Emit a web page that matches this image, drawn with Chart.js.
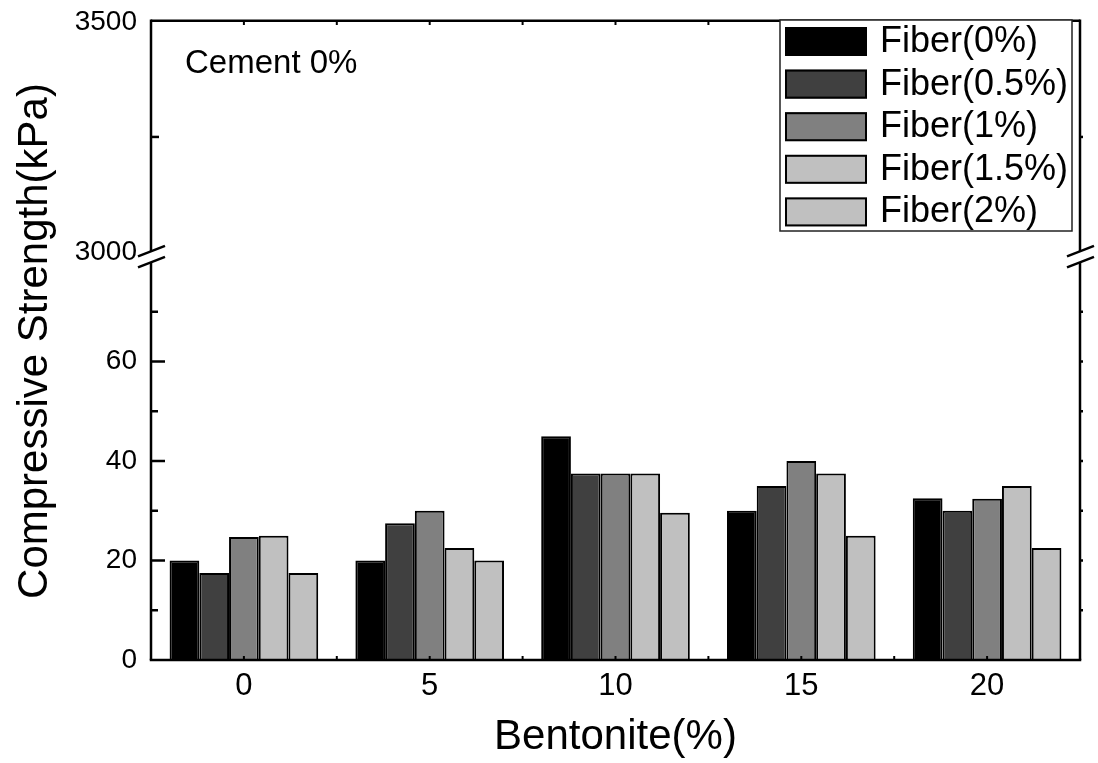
<!DOCTYPE html>
<html>
<head>
<meta charset="utf-8">
<title>Compressive Strength vs Bentonite</title>
<script src="https://cdn.jsdelivr.net/npm/chart.js@4.4.1/dist/chart.umd.min.js"></script>
<style>
  html, body { margin: 0; padding: 0; background: #fff; }
  #wrap { width: 1098px; height: 763px; }
</style>
</head>
<body>
<div id="wrap"><canvas id="chart" width="1098" height="763"></canvas></div>
<script>
// Bentonite content (%) on the x axis
const bentonite = ['0', '5', '10', '15', '20'];

// Fibre contents shown in the legend
const fiberLabels = ['Fiber(0%)', 'Fiber(0.5%)', 'Fiber(1%)', 'Fiber(1.5%)', 'Fiber(2%)'];

// Compressive strength (kPa) for each fibre content, cement 0%
const fiber0  = [20.0, 20.0, 45.0, 30.0, 32.5];
const fiber05 = [17.5, 27.5, 37.5, 35.0, 30.0];
const fiber1  = [24.7, 30.0, 37.5, 40.0, 32.4];
const fiber15 = [25.0, 22.5, 37.5, 37.5, 35.0];
const fiber2  = [17.5, 20.0, 29.6, 25.0, 22.5];

// Labelled ticks of the two y-axis segments
const lowerTicks = [0, 20, 40, 60];
const upperTicks = [3000, 3500];

const FONT = '"Liberation Sans", Arial, Helvetica, sans-serif';
const fills = ['#000000', '#404040', '#808080', '#c0c0c0', '#c0c0c0'];
const seriesValues = [fiber0, fiber05, fiber1, fiber15, fiber2];

const datasets = seriesValues.map((vals, i) => ({
  label: fiberLabels[i],
  data: vals,
  backgroundColor: fills[i],
  borderColor: '#000',
  borderWidth: 2,
  borderSkipped: 'bottom',
  yAxisID: 'y',
  categoryPercentage: 0.8,
  barPercentage: 1.0
}));

function line(ctx, x1, y1, x2, y2) {
  ctx.beginPath();
  ctx.moveTo(x1, y1);
  ctx.lineTo(x2, y2);
  ctx.stroke();
}

// Frame, broken y axis, ticks, labels, titles and the boxed legend
const framePlugin = {
  id: 'frame',
  afterDraw(chart) {
    const { ctx, chartArea: a } = chart;
    const x = chart.scales.x, y = chart.scales.y, yTop = chart.scales.yTop;
    ctx.save();
    ctx.strokeStyle = '#000';
    ctx.fillStyle = '#000';
    ctx.lineWidth = 2.5;
    ctx.lineCap = 'butt';

    // where the axis is broken
    const brk = (y.top + yTop.getPixelForValue(upperTicks[0])) / 2;
    const gap = 5.5;

    // frame
    line(ctx, a.left, a.top - 1.25, a.right, a.top - 1.25);
    line(ctx, a.left - 1.25, a.bottom, a.right + 1.25, a.bottom);
    [a.left, a.right].forEach(px => {
      line(ctx, px, a.top - 2.5, px, brk - gap);
      line(ctx, px, brk + gap, px, a.bottom);
    });

    // break marks
    [a.left, a.right].forEach(px => {
      [-gap, gap].forEach(off => {
        line(ctx, px - 13, brk + off + 5, px + 14, brk + off - 5.5);
      });
    });

    // lower segment ticks (every 10)
    for (let v = 10; v <= y.max - 10; v += 10) {
      const py = y.getPixelForValue(v);
      const len = v % 20 === 0 ? 14 : 7;
      line(ctx, a.left, py, a.left + len, py);
      line(ctx, a.right, py, a.right + 3, py);
    }
    // upper segment minor tick
    const mid = (upperTicks[0] + upperTicks[1]) / 2;
    const pm = yTop.getPixelForValue(mid);
    line(ctx, a.left, pm, a.left + 8, pm);
    line(ctx, a.right, pm, a.right + 3, pm);

    // x ticks at category centres and between categories
    ctx.lineWidth = 2;
    const n = bentonite.length;
    const step = (a.right - a.left) / n;
    for (let i = 0; i < n; i++) {
      const cx = x.getPixelForValue(i);
      line(ctx, cx, a.bottom, cx, a.bottom - 4);
      line(ctx, cx, a.top, cx, a.top + 3);
      if (i < n - 1) {
        const bx = cx + step / 2;
        line(ctx, bx, a.bottom, bx, a.bottom - 4);
        line(ctx, bx, a.top, bx, a.top + 3);
      }
    }

    // y tick labels
    ctx.font = '28px ' + FONT;
    ctx.textAlign = 'right';
    ctx.textBaseline = 'middle';
    lowerTicks.forEach(v => ctx.fillText(String(v), a.left - 14, y.getPixelForValue(v)));
    upperTicks.forEach(v => ctx.fillText(String(v), a.left - 14, yTop.getPixelForValue(v)));

    // x tick labels
    ctx.font = '31px ' + FONT;
    ctx.textAlign = 'center';
    ctx.textBaseline = 'alphabetic';
    bentonite.forEach((lab, i) => ctx.fillText(lab, x.getPixelForValue(i), a.bottom + 35));

    // axis titles
    ctx.font = '42px ' + FONT;
    ctx.textAlign = 'center';
    ctx.fillText('Bentonite(%)', (a.left + a.right) / 2, 749);
    ctx.save();
    ctx.translate(47, (a.top + a.bottom) / 2);
    ctx.rotate(-Math.PI / 2);
    ctx.fillText('Compressive Strength(kPa)', 0, 0);
    ctx.restore();

    // annotation
    ctx.font = '33px ' + FONT;
    ctx.textAlign = 'left';
    ctx.fillText('Cement 0%', 185, 73);

    // legend
    const lx = 780, ly = 20, lw = 292, lh = 211;
    ctx.fillStyle = '#fff';
    ctx.fillRect(lx, ly, lw, lh);
    ctx.lineWidth = 1.5;
    ctx.strokeStyle = '#222';
    ctx.strokeRect(lx, ly, lw, lh);
    ctx.font = '36px ' + FONT;
    ctx.textBaseline = 'middle';
    chart.data.datasets.forEach((ds, i) => {
      const sy = 27 + i * 42.6;
      ctx.fillStyle = ds.backgroundColor;
      ctx.fillRect(785, sy, 82, 29);
      ctx.lineWidth = 2;
      ctx.strokeStyle = '#000';
      ctx.strokeRect(786, sy + 1, 80, 27);
      ctx.fillStyle = '#000';
      ctx.fillText(ds.label, 880, sy + 15);
    });

    ctx.restore();
  }
};

const hiddenAxis = {
  grid: { display: false, drawTicks: false },
  border: { display: false },
  ticks: { display: false }
};

new Chart(document.getElementById('chart'), {
  type: 'bar',
  data: { labels: bentonite, datasets },
  options: {
    responsive: false,
    animation: false,
    layout: { padding: { left: 151, right: 18, top: 22, bottom: 103 } },
    plugins: { legend: { display: false }, tooltip: { enabled: false } },
    scales: {
      x: Object.assign({ type: 'category', offset: true }, hiddenAxis),
      // lower segment that carries the bars
      y: Object.assign({
        type: 'linear', position: 'left', stack: 'strength',
        stackWeight: 398, min: 0, max: 80
      }, hiddenAxis),
      // upper segment of the broken axis (empty range above the data)
      yTop: Object.assign({
        type: 'linear', position: 'left', stack: 'strength',
        stackWeight: 240, min: 2978, max: 3500
      }, hiddenAxis)
    }
  },
  plugins: [framePlugin]
});
</script>
</body>
</html>
